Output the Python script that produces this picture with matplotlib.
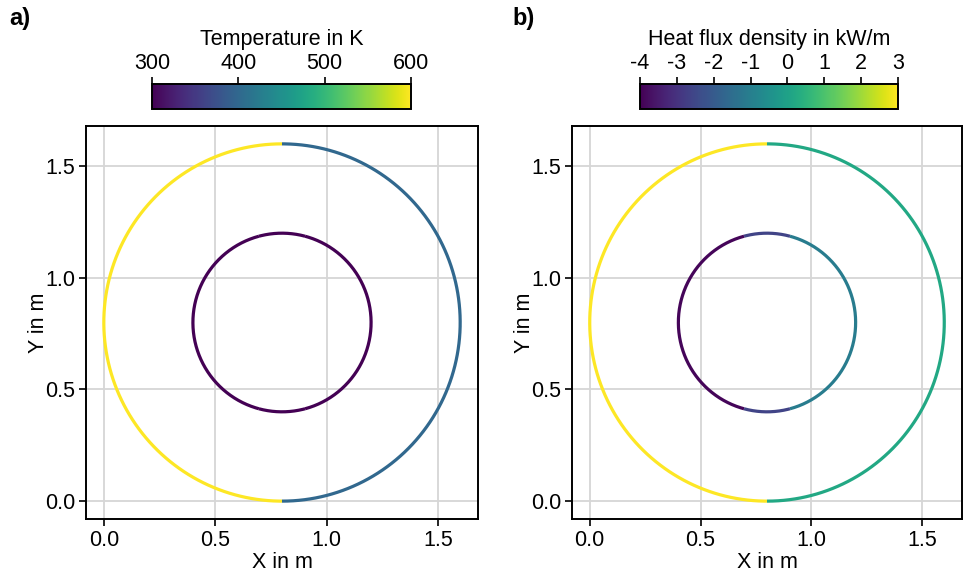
import numpy as np
import matplotlib
matplotlib.use('Agg')
import matplotlib.pyplot as plt
from matplotlib.colors import Normalize
from matplotlib.cm import ScalarMappable

plt.rcParams['font.family'] = ['Liberation Sans', 'DejaVu Sans']
plt.rcParams['font.size'] = 15.5
plt.rcParams['axes.unicode_minus'] = False

# ---- data ----
center = (0.8, 0.8)
# boundary arcs: radius, start angle (deg), end angle (deg)
arc_radius = [0.8, 0.8, 0.4, 0.4, 0.4, 0.4]
arc_start = [90, -90, -75, 75, 105, 255]
arc_end = [270, 90, 75, 105, 255, 285]
temperature_K = [600, 400, 300, 300, 300, 300]
heat_flux_kWm = [3.0, 0.2, -1.1, -2.6, -3.9, -2.6]

temp_ticks = [300, 400, 500, 600]
flux_ticks = [-4, -3, -2, -1, 0, 1, 2, 3]
axis_ticks = [0.0, 0.5, 1.0, 1.5]
axis_ticklabels = ['0.0', '0.5', '1.0', '1.5']

W, H = 965, 575
fig = plt.figure(figsize=(W / 100, H / 100), dpi=100)


def px(l, t, r, b):
    return [l / W, 1 - b / H, (r - l) / W, (b - t) / H]


cmap = plt.get_cmap('viridis')
FS = 15.5


def panel(axrect, caxrect, values, vmin, vmax, ticks, title, letter, letter_x):
    ax = fig.add_axes(px(*axrect))
    norm = Normalize(vmin, vmax)
    for r, a0, a1, v in zip(arc_radius, arc_start, arc_end, values):
        th = np.radians(np.linspace(a0, a1, 200))
        ax.plot(center[0] + r * np.cos(th), center[1] + r * np.sin(th),
                color=cmap(norm(v)), lw=2.3, solid_capstyle='butt', zorder=3)
    ax.set_xlim(-0.08, 1.68)
    ax.set_ylim(-0.08, 1.68)
    ax.set_xticks(axis_ticks, axis_ticklabels)
    ax.set_yticks(axis_ticks, axis_ticklabels)
    ax.grid(True, color='#d6d6d6', lw=1.3)
    ax.set_axisbelow(True)
    for s in ax.spines.values():
        s.set_linewidth(1.4)
        s.set_color('black')
    ax.tick_params(direction='out', length=5, width=1.2, colors='black',
                   labelsize=FS, pad=3)
    ax.set_xlabel('X in m', fontsize=FS, labelpad=1)
    ax.set_ylabel('Y in m', fontsize=FS, labelpad=-3)

    cax = fig.add_axes(px(*caxrect))
    cb = fig.colorbar(ScalarMappable(norm=norm, cmap=cmap), cax=cax,
                      orientation='horizontal')
    cax.xaxis.set_ticks_position('top')
    cax.xaxis.set_label_position('top')
    cb.set_ticks(ticks)
    cb.set_ticklabels([str(t) for t in ticks])
    cb.outline.set_linewidth(1.4)
    cax.tick_params(direction='out', length=5, width=1.2, labelsize=FS, pad=2)
    cax.set_xlabel(title, fontsize=FS, labelpad=6)
    fig.text(letter_x / W, 1 - 18 / H, letter, fontsize=17, fontweight='bold',
             ha='left', va='center')


panel((86, 126, 478, 519), (152, 84, 411, 109), temperature_K, 300, 600,
      temp_ticks, 'Temperature in K', 'a)', 9)
panel((572, 126, 962, 519), (640, 84, 898, 109), heat_flux_kWm, -4, 3,
      flux_ticks, 'Heat flux density in kW/m', 'b)', 512)

fig.savefig('out.png', dpi=100)
